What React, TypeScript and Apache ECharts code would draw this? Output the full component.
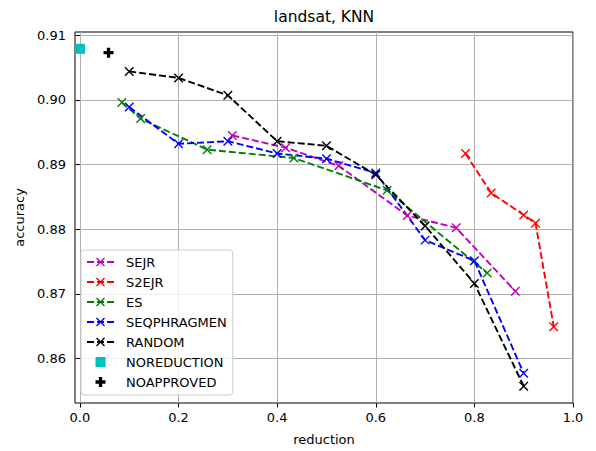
import React, { useEffect, useRef } from 'react';
import * as echarts from 'echarts';

const title = 'landsat, KNN';
const xLabelName = 'reduction';
const yLabelName = 'accuracy';

const xTicks = [0.0, 0.2, 0.4, 0.6, 0.8, 1.0];
const yTicks = [0.86, 0.87, 0.88, 0.89, 0.90, 0.91];

const sejrX = [0.309, 0.417, 0.525, 0.664, 0.763, 0.883];
const sejrY = [0.8945, 0.8926, 0.8898, 0.8821, 0.8802, 0.8704];

const s2ejrX = [0.782, 0.834, 0.900, 0.924, 0.961];
const s2ejrY = [0.8917, 0.8856, 0.8822, 0.8809, 0.8649];

const esX = [0.085, 0.123, 0.258, 0.434, 0.623, 0.826];
const esY = [0.8996, 0.8971, 0.8923, 0.8910, 0.8860, 0.8732];

const seqX = [0.1, 0.2, 0.3, 0.4, 0.5, 0.6, 0.7, 0.8, 0.9];
const seqY = [0.8989, 0.8932, 0.8936, 0.8917, 0.8909, 0.8887, 0.8783, 0.8751, 0.8577];

const randX = [0.1, 0.2, 0.3, 0.4, 0.5, 0.6, 0.7, 0.8, 0.9];
const randY = [0.9044, 0.9034, 0.9007, 0.8936, 0.8929, 0.8884, 0.8805, 0.8716, 0.8557];

const noReductionX = [0.0];
const noReductionY = [0.9079];

const noApprovedX = [0.058];
const noApprovedY = [0.9073];

const FONT = 'DejaVu Sans';
const X_SYMBOL = 'path://M0,0L10,10M10,0L0,10';
const SQUARE_SYMBOL = 'path://M0,0H10V10H0Z';
const PLUS_SYMBOL = 'path://M2,0H4V2H6V4H4V6H2V4H0V2H2Z';

const zip = (xs: number[], ys: number[]) => xs.map((x, i) => [x, ys[i]]);

const lineSeries = (name: string, xs: number[], ys: number[], color: string) => ({
  name,
  type: 'line',
  data: zip(xs, ys),
  symbol: X_SYMBOL,
  symbolSize: 8.5,
  lineStyle: { color, width: 1.9, type: [7, 3] },
  itemStyle: { color, borderColor: color, borderWidth: 1.4 },
  emphasis: { disabled: true },
});

export default function App() {
  const ref = useRef<HTMLDivElement>(null);
  useEffect(() => {
    if (!ref.current) return;
    const chart = echarts.init(ref.current, null, { renderer: 'svg' });
    chart.setOption({
      animation: false,
      title: {
        text: title,
        left: 324,
        top: 9,
        padding: 0,
        textAlign: 'center',
        textStyle: { fontFamily: FONT, fontSize: 15.5, fontWeight: 'normal', color: '#000' },
      },
      grid: {
        left: 75,
        right: 23,
        top: 32,
        bottom: 47,
        show: true,
        borderColor: '#000',
        borderWidth: 1,
        backgroundColor: 'transparent',
      },
      xAxis: {
        type: 'value',
        min: -0.01,
        max: 1.0,
        name: xLabelName,
        nameLocation: 'middle',
        nameGap: 30,
        nameTextStyle: { fontFamily: FONT, fontSize: 13, color: '#000' },
        axisLine: { show: false },
        axisTick: { show: true, length: 4.5, customValues: xTicks, lineStyle: { color: '#000', width: 1 } },
        axisLabel: {
          customValues: xTicks,
          margin: 8,
          fontFamily: FONT,
          fontSize: 13,
          color: '#000',
          formatter: (v: number) => v.toFixed(1),
        },
        splitLine: { show: true, lineStyle: { color: '#b0b0b0', width: 1 } },
      },
      yAxis: {
        type: 'value',
        min: 0.8531,
        max: 0.9105,
        name: yLabelName,
        nameLocation: 'middle',
        nameGap: 46,
        nameTextStyle: { fontFamily: FONT, fontSize: 13, color: '#000' },
        axisLine: { show: false },
        axisTick: { show: true, length: 4.5, customValues: yTicks, lineStyle: { color: '#000', width: 1 } },
        axisLabel: {
          customValues: yTicks,
          margin: 9,
          fontFamily: FONT,
          fontSize: 13,
          color: '#000',
          formatter: (v: number) => v.toFixed(2),
        },
        splitLine: { show: true, lineStyle: { color: '#b0b0b0', width: 1 } },
      },
      legend: {
        orient: 'vertical',
        left: 81,
        top: 250,
        padding: [5, 6, 6, 5],
        itemWidth: 27,
        itemHeight: 10,
        itemGap: 6,
        backgroundColor: 'rgba(255,255,255,0.8)',
        borderColor: '#cccccc',
        borderWidth: 1,
        borderRadius: 3,
        itemStyle: { borderWidth: 1.4 },
        textStyle: { fontFamily: FONT, fontSize: 13, color: '#000', lineHeight: 14, padding: [0, 0, 0, 7] },
        data: [
          'SEJR',
          'S2EJR',
          'ES',
          'SEQPHRAGMEN',
          'RANDOM',
          { name: 'NOREDUCTION', itemStyle: { borderWidth: 0 } },
          { name: 'NOAPPROVED', itemStyle: { borderWidth: 0 } },
        ],
      },
      series: [
        lineSeries('SEJR', sejrX, sejrY, '#bf00bf'),
        lineSeries('S2EJR', s2ejrX, s2ejrY, '#ff0000'),
        lineSeries('ES', esX, esY, '#008000'),
        lineSeries('SEQPHRAGMEN', seqX, seqY, '#0000ff'),
        lineSeries('RANDOM', randX, randY, '#000000'),
        {
          name: 'NOREDUCTION',
          type: 'scatter',
          data: zip(noReductionX, noReductionY),
          symbol: SQUARE_SYMBOL,
          symbolSize: 10,
          itemStyle: { color: '#00bfbf', opacity: 1 },
          emphasis: { disabled: true },
        },
        {
          name: 'NOAPPROVED',
          type: 'scatter',
          data: zip(noApprovedX, noApprovedY),
          symbol: PLUS_SYMBOL,
          symbolSize: 10,
          itemStyle: { color: '#000000', opacity: 1 },
          emphasis: { disabled: true },
        },
      ],
    });
    return () => chart.dispose();
  }, []);
  return (
    <div
      ref={ref}
      style={{ position: 'fixed', left: 0, top: 0, width: 596, height: 451, background: '#fff' }}
    />
  );
}
